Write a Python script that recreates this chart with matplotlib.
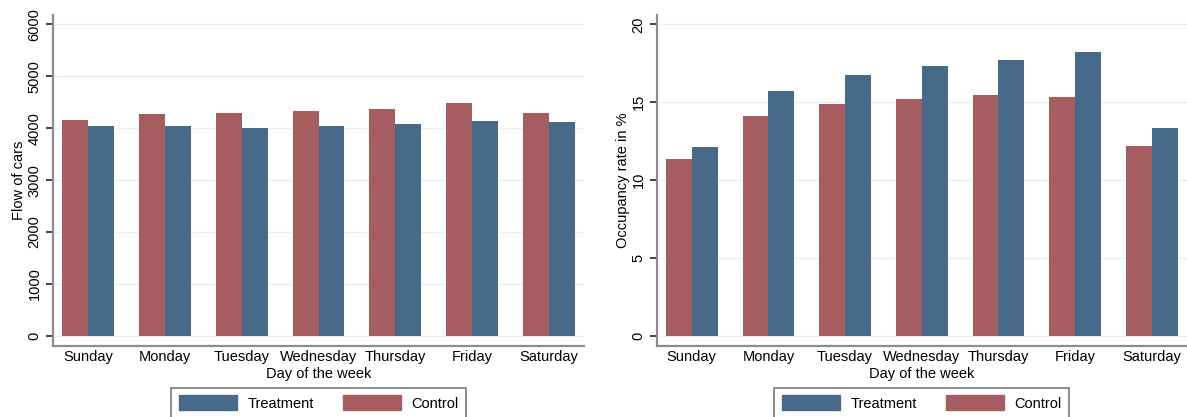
import matplotlib
matplotlib.use("Agg")
from matplotlib import pyplot as plt
from matplotlib.patches import Patch
import numpy as np

days = ['Sunday', 'Monday', 'Tuesday', 'Wednesday', 'Thursday', 'Friday', 'Saturday']

# flow of cars per day
flow_control = [4150, 4270, 4290, 4340, 4370, 4480, 4290]
flow_treatment = [4040, 4050, 4010, 4050, 4075, 4145, 4115]

# occupancy rate in %
occ_control = [11.36, 14.10, 14.87, 15.23, 15.44, 15.36, 12.21]
occ_treatment = [12.13, 15.72, 16.73, 17.35, 17.69, 18.20, 13.37]

flow_ticks = [0, 1000, 2000, 3000, 4000, 5000, 6000]
occ_ticks = [0, 5, 10, 15, 20]

c_treat = '#476a8b'
c_ctrl = '#a65d60'
grid_c = '#e8f0f1'

plt.rcParams['font.family'] = ['Liberation Sans', 'DejaVu Sans']
fs = 10.5

fig = plt.figure(figsize=(11.87, 4.17), dpi=100)
ax1 = fig.add_axes([0.0444, 0.171, 0.448, 0.793])
ax2 = fig.add_axes([0.5532, 0.171, 0.4468, 0.793])

x = np.arange(len(days))
w = 0.337


def draw_panel(ax, ctrl, treat, ticks, ylim, ylabel):
    ax.bar(x - w / 2, ctrl, w, color=c_ctrl, zorder=2)
    ax.bar(x + w / 2, treat, w, color=c_treat, zorder=2)
    ax.set_xlim(-0.458, 6.46)
    ax.set_ylim(*ylim)
    ax.set_yticks(ticks)
    ax.set_yticklabels([str(t) for t in ticks], rotation=90, va='center', fontsize=fs)
    ax.set_xticks(x)
    ax.set_xticklabels(days, fontsize=fs)
    ax.tick_params(axis='x', length=0, pad=3)
    ax.tick_params(axis='y', length=5, width=1.2, color='#222222', pad=3)
    ax.grid(axis='y', color=grid_c, lw=1.0, zorder=0)
    ax.set_axisbelow(True)
    for s in ['top', 'right']:
        ax.spines[s].set_visible(False)
    for s in ['left', 'bottom']:
        ax.spines[s].set_color('#8c8c8c')
        ax.spines[s].set_linewidth(1.6)
    ax.set_xlabel('Day of the week', fontsize=fs, labelpad=2)
    ax.set_ylabel(ylabel, fontsize=fs, labelpad=1)


draw_panel(ax1, flow_control, flow_treatment, flow_ticks, (-190, 6180), 'Flow of cars')
draw_panel(ax2, occ_control, occ_treatment, occ_ticks, (-0.62, 20.6), 'Occupancy rate in %')

# legend boxes sit at the bottom edge, one under each panel
handles = [Patch(facecolor=c_treat, edgecolor=c_treat), Patch(facecolor=c_ctrl, edgecolor=c_ctrl)]
for cx in [0.2685, 0.7765]:
    leg = fig.legend(handles, ['Treatment', 'Control'], loc='upper center',
                     bbox_to_anchor=(cx, 0.0695), bbox_transform=fig.transFigure,
                     ncol=2, fontsize=fs, handlelength=4.0, handleheight=1.2,
                     handletextpad=0.7, columnspacing=2.0, borderpad=0.5,
                     borderaxespad=0, fancybox=False, framealpha=1)
    leg.get_frame().set_edgecolor('#7a7a7a')
    leg.get_frame().set_linewidth(1.2)

fig.savefig('out.png', dpi=100)
